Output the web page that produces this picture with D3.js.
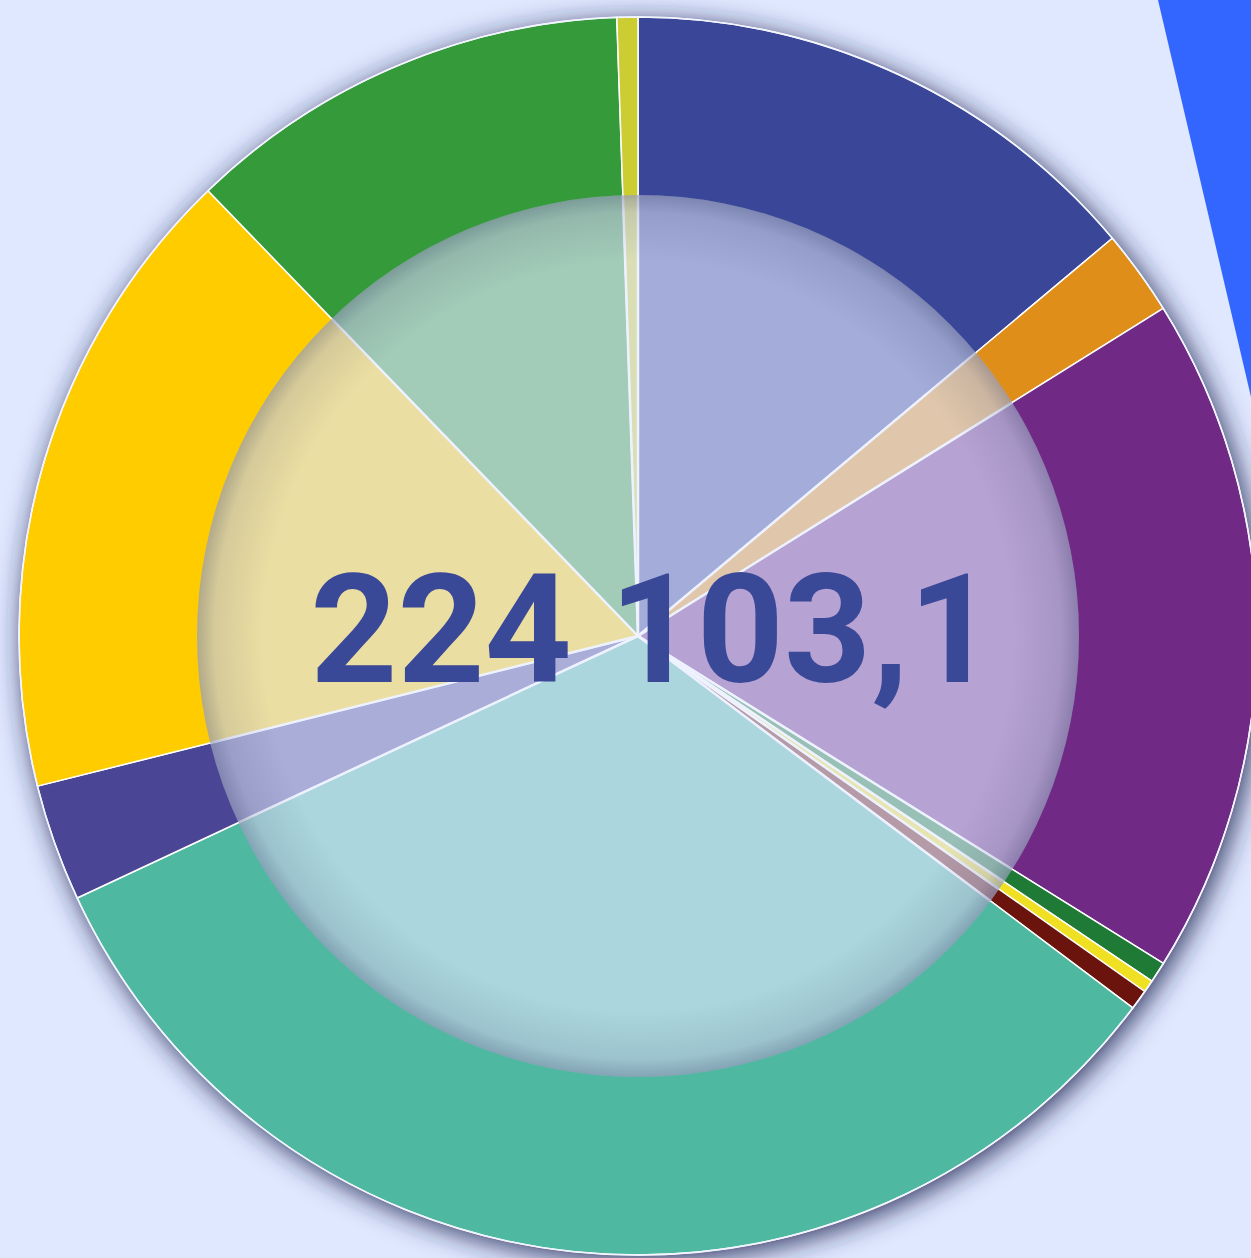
<!DOCTYPE html>
<html>
<head>
<meta charset="utf-8">
<script src="https://cdn.jsdelivr.net/npm/d3@7"></script>
<style>
  html, body { margin: 0; padding: 0; background: #e0e8ff; overflow: hidden; }
  svg { display: block; }
</style>
</head>
<body>
<div class="wrapper"></div>
<script>
// slices, clockwise from 12 o'clock
var categories = ["A", "B", "C", "D", "E", "F", "G", "H", "I", "J", "K"];
var values = [31138.4, 4992.3, 39772.6, 1214.2, 728.5, 1170.4, 73475.8, 6848.1, 37375.2, 26164.7, 1222.9];
var colors = ["#3a4798", "#df8e1a", "#702a85", "#1e7a35", "#f0e024", "#6b130d",
              "#4fb8a0", "#4a4594", "#ffcc00", "#359a3a", "#cccc33"];

var width = 1251,
  height = 1258;

var svg = d3.select(".wrapper")
  .append("svg")
    .attr("width", width)
    .attr("height", height);

var defs = svg.append("defs");

var shadow = defs.append("filter")
    .attr("id", "outerShadow")
    .attr("x", "-10%").attr("y", "-10%")
    .attr("width", "120%").attr("height", "120%");
shadow.append("feDropShadow")
    .attr("dx", 4).attr("dy", 5)
    .attr("stdDeviation", 14)
    .attr("flood-color", "#1a2050")
    .attr("flood-opacity", 0.95);

// inner shadow for the pale centre
var grad = defs.append("radialGradient")
    .attr("id", "innerShade");
grad.append("stop").attr("offset", "0.85").attr("stop-color", "#101540").attr("stop-opacity", 0);
grad.append("stop").attr("offset", "0.96").attr("stop-color", "#101540").attr("stop-opacity", 0.1);
grad.append("stop").attr("offset", "1").attr("stop-color", "#101540").attr("stop-opacity", 0.26);

svg.append("rect")
    .attr("width", width)
    .attr("height", height)
    .attr("fill", "#e0e8ff");

// blue corner shape
svg.append("path")
    .attr("d", "M1158,0 L" + width + ",0 L" + width + ",397 Z")
    .attr("fill", "#3366ff");

var cx = 638, cy = 636,
  outerR = 619,
  innerR = 441;

var g = svg.append("g")
    .attr("transform", "translate(" + cx + "," + cy + ")");

var pie = d3.pie()
    .sort(null)
    .value(function(d) { return d; });

var arcs = pie(values);

var arc = d3.arc()
    .innerRadius(0)
    .outerRadius(outerR);

// outline w/ shadow
g.append("circle")
    .attr("r", outerR)
    .attr("fill", "#e8eeff")
    .attr("filter", "url(#outerShadow)");

g.append("g")
  .selectAll("path")
  .data(arcs)
  .enter().append("path")
    .attr("d", arc)
    .attr("fill", function(d, i) { return colors[i]; })
    .attr("stroke", "#ffffff")
    .attr("stroke-width", 1.5)
    .attr("stroke-linejoin", "round");

g.append("circle")
    .attr("r", outerR)
    .attr("fill", "none")
    .attr("stroke", "#f2f4ff")
    .attr("stroke-width", 1.5);

// pale centre
g.append("circle")
    .attr("r", innerR)
    .attr("fill", "#e0e8ff")
    .attr("opacity", 0.64);

g.append("g")
  .selectAll("line")
  .data(arcs)
  .enter().append("line")
    .attr("x1", 0).attr("y1", 0)
    .attr("x2", function(d) { return innerR * Math.sin(d.startAngle); })
    .attr("y2", function(d) { return -innerR * Math.cos(d.startAngle); })
    .attr("stroke", "#eef2ff")
    .attr("stroke-width", 2.5);

g.append("circle")
    .attr("r", innerR)
    .attr("fill", "url(#innerShade)");

var fmt = d3.formatLocale({ decimal: ",", thousands: " ", grouping: [3], currency: ["", ""] }).format(",.1f");

g.append("text")
    .attr("x", 15)
    .attr("y", 46)
    .attr("text-anchor", "middle")
    .attr("font-family", "Roboto, 'DejaVu Sans', sans-serif")
    .attr("font-weight", "bold")
    .attr("font-size", 152)
    .attr("fill", "#3a4898")
    .text(fmt(d3.sum(values)));
</script>
</body>
</html>
